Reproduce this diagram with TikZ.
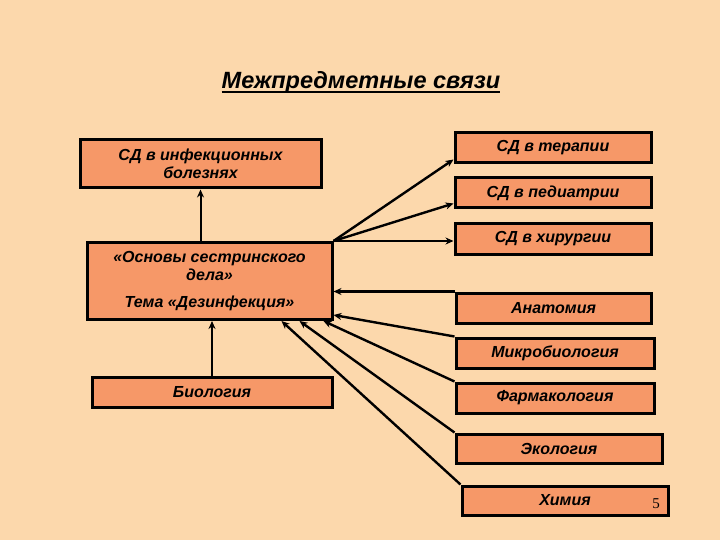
\documentclass[tikz,border=0pt]{standalone}
\usepackage{fontspec}
\setmainfont{Liberation Sans}
\newfontfamily\serifnum{Liberation Serif}
\usetikzlibrary{arrows.meta,calc}
\definecolor{bgc}{RGB}{252,216,172}
\definecolor{boxc}{RGB}{246,152,104}
\begin{document}
\begin{tikzpicture}[x=1pt,y=-1pt,
  box/.style={draw=black,line width=3pt,fill=boxc,inner sep=0pt,
    font=\fontsize{16}{18}\selectfont\bfseries\itshape,align=center},
  arr/.style={line width=2.4pt,-{Stealth[length=8pt,width=7pt]}},
]
\fill[bgc] (0,0) rectangle (720,540);
\useasboundingbox (0,0) rectangle (720,540);

\node[inner sep=0pt] (title) at (361,82) {\fontsize{23.5}{26}\selectfont\bfseries\itshape Межпредметные связи};
\draw[line width=2pt] ($(title.base west)+(0,4)$) -- ($(title.base east)+(0,4)$);

\node[box,minimum width=241pt,minimum height=48pt] (inf) at (200.5,164) {СД в инфекционных\\болезнях};
\node[box,minimum width=245pt,minimum height=77pt] (osn) at (209.5,281) {«Основы сестринского\\дела»\\[9pt]Тема «Дезинфекция»};
\node[box,minimum width=240pt,minimum height=30pt] (bio) at (212,392) {Биология};

\node[box,minimum width=196pt,minimum height=30pt] (ter) at (553,148) {СД в терапии};
\node[box,minimum width=196pt,minimum height=30pt] (ped) at (553,193) {СД в педиатрии};
\node[box,minimum width=196pt,minimum height=31pt] (hir) at (553,239) {СД в хирургии};
\node[box,minimum width=195pt,minimum height=30pt] (anat) at (553.5,308) {Анатомия};
\node[box,minimum width=198pt,minimum height=30pt] (micro) at (555,353) {Микробиология};
\node[box,minimum width=198pt,minimum height=30pt] (farm) at (555,398) {Фармакология};
\node[box,minimum width=206pt,minimum height=29pt] (eco) at (559,448.5) {Экология};
\node[box,minimum width=206pt,minimum height=29pt] (him) at (565,500.5) {Химия};

\node (num) at (656,504) {\serifnum\fontsize{15}{18}\selectfont 5};

\draw[arr,line width=2pt] (osn.north -| inf.south) -- (inf.south);
\draw[arr] (osn.north east) -- ($(ter.south west)+(0,-5)$);
\draw[arr] (osn.north east) -- ($(ped.south west)+(0,-6)$);
\draw[arr] (osn.north east) -- (osn.north east -| hir.west);
\draw[arr] (anat.north west) -- (anat.north west -| osn.east);
\draw[arr] (micro.north west) -- ($(osn.south east)+(0,-6)$);
\draw[arr] (farm.north west) -- ($(osn.south east)+(-10,0)$);
\draw[arr] (eco.north west) -- ($(osn.south east)+(-34,0)$);
\draw[arr] (him.north west) -- ($(osn.south east)+(-52,0)$);
\draw[arr,line width=2pt] (bio.north) -- (osn.south -| bio.north);
\end{tikzpicture}
\end{document}
